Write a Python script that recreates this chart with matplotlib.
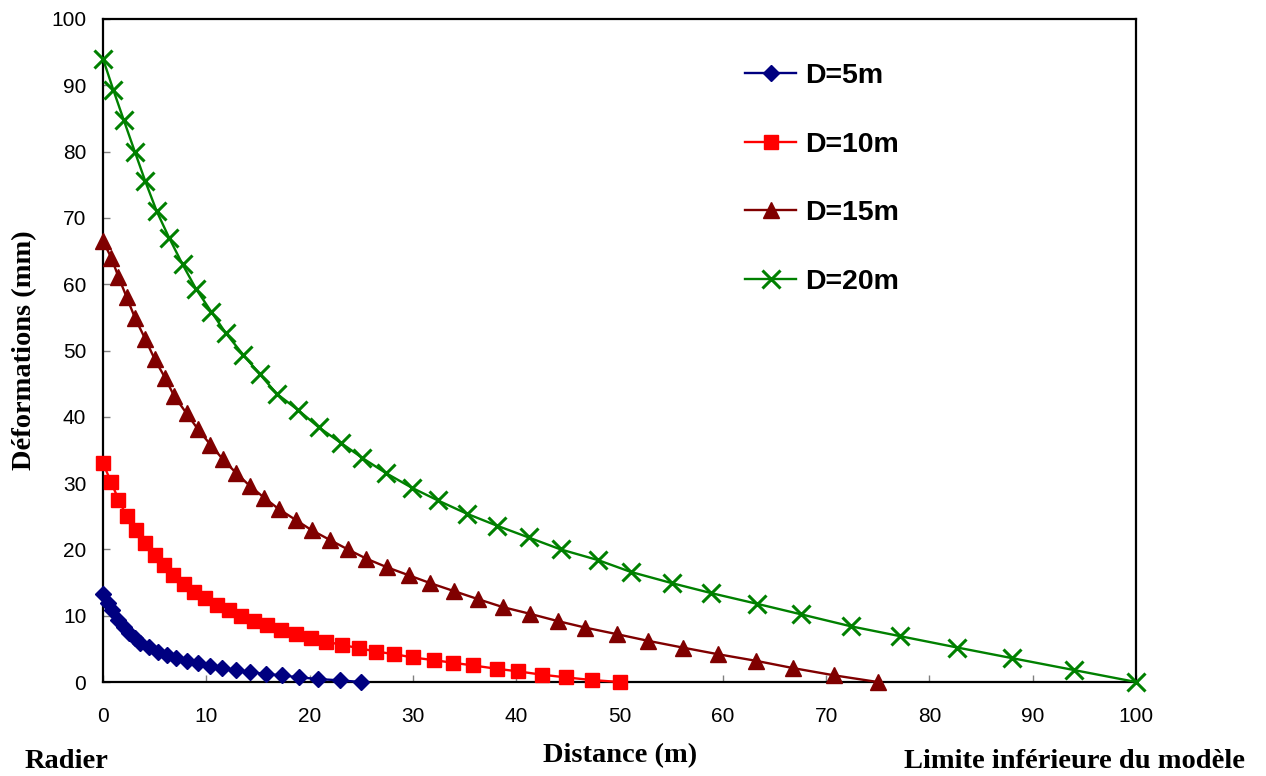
import matplotlib.pyplot as plt

# distances (m) and deformations (mm)
x_d5 = [0, 0.5, 0.9, 1.5, 2.0, 2.5, 3.1, 3.6, 4.5, 5.3, 6.2, 7.1, 8.1, 9.2,
        10.4, 11.5, 12.9, 14.2, 15.8, 17.3, 19.0, 20.8, 22.9, 25.0]
y_d5 = [13.3, 11.9, 10.8, 9.4, 8.3, 7.4, 6.6, 5.9, 5.3, 4.6, 4.1, 3.6, 3.2, 2.8,
        2.4, 2.1, 1.8, 1.5, 1.2, 1.0, 0.7, 0.45, 0.25, 0.0]

x_d10 = [0, 0.8, 1.5, 2.3, 3.2, 4.1, 5.0, 5.9, 6.8, 7.8, 8.8, 9.9, 11.0, 12.2,
         13.4, 14.6, 15.9, 17.2, 18.7, 20.1, 21.6, 23.1, 24.8, 26.4, 28.2,
         30.0, 32.0, 33.9, 35.8, 38.1, 40.2, 42.5, 44.8, 47.3, 50.0]
y_d10 = [33.0, 30.1, 27.5, 25.0, 22.9, 20.9, 19.1, 17.6, 16.1, 14.8, 13.6, 12.6,
         11.6, 10.8, 10.0, 9.2, 8.6, 7.9, 7.3, 6.7, 6.1, 5.6, 5.1, 4.6, 4.2,
         3.7, 3.3, 2.9, 2.5, 2.0, 1.6, 1.1, 0.7, 0.3, 0.0]

x_d15 = [0, 0.8, 1.5, 2.3, 3.1, 4.1, 5.0, 6.0, 6.9, 8.1, 9.2, 10.4, 11.6, 12.9,
         14.2, 15.6, 17.0, 18.7, 20.2, 22.0, 23.7, 25.5, 27.5, 29.6, 31.7,
         34.0, 36.3, 38.7, 41.3, 44.0, 46.7, 49.8, 52.8, 56.1, 59.5, 63.2,
         66.8, 70.8, 75.0]
y_d15 = [66.5, 64.0, 61.1, 58.0, 54.9, 51.7, 48.7, 45.9, 43.1, 40.5, 38.1, 35.8,
         33.6, 31.5, 29.6, 27.8, 26.1, 24.4, 22.9, 21.4, 20.0, 18.6, 17.3, 16.1,
         14.9, 13.7, 12.5, 11.3, 10.3, 9.2, 8.2, 7.2, 6.2, 5.2, 4.2, 3.2, 2.1,
         1.0, 0.0]

x_d20 = [0, 1.0, 2.0, 3.1, 4.1, 5.2, 6.4, 7.7, 9.0, 10.5, 11.9, 13.6, 15.2, 16.8,
         18.9, 20.9, 23.0, 25.1, 27.4, 29.9, 32.4, 35.2, 38.1, 41.2, 44.3, 47.9,
         51.1, 55.1, 58.9, 63.3, 67.6, 72.4, 77.2, 82.7, 88.0, 94.0, 100.0]
y_d20 = [94.0, 89.3, 84.8, 79.9, 75.5, 71.0, 67.0, 63.0, 59.3, 55.8, 52.6, 49.3,
         46.4, 43.5, 41.0, 38.4, 36.1, 33.8, 31.5, 29.3, 27.4, 25.4, 23.6, 21.8,
         20.0, 18.4, 16.6, 14.9, 13.4, 11.8, 10.2, 8.4, 6.9, 5.2, 3.6, 1.8, 0.0]

ticks = list(range(0, 101, 10))

W, H = 1266, 776
fig = plt.figure(figsize=(W / 100, H / 100), dpi=100)
ax = fig.add_axes([103 / W, (H - 682) / H, (1136 - 103) / W, (682 - 19) / H])

ax.plot(x_d5, y_d5, color="#000080", lw=1.7, marker="D", ms=8.5, label="D=5m",
        clip_on=False, zorder=3)
ax.plot(x_d10, y_d10, color="#ff0000", lw=1.7, marker="s", ms=10,
        label="D=10m", clip_on=False, zorder=3)
ax.plot(x_d15, y_d15, color="#800000", lw=1.7, marker="^", ms=11,
        label="D=15m", clip_on=False, zorder=3)
ax.plot(x_d20, y_d20, color="#008000", lw=1.7, marker="x", ms=12.5, mew=2.2,
        label="D=20m", clip_on=False, zorder=3)

ax.set_xlim(0, 100)
ax.set_ylim(0, 100)
ax.set_xticks(ticks)
ax.set_yticks(ticks)
for s in ax.spines.values():
    s.set_linewidth(1.6)
    s.set_color("black")
ax.tick_params(direction="in", length=5, width=1, color="#808080",
               labelsize=15)
ax.tick_params(axis="x", pad=18)
ax.tick_params(axis="y", pad=12)
for lab in ax.get_xticklabels() + ax.get_yticklabels():
    lab.set_family("Liberation Sans")

leg = ax.legend(loc="upper left", bbox_to_anchor=(745 / W, 1 - 63 / H),
                bbox_transform=fig.transFigure, frameon=False, borderpad=0,
                borderaxespad=0, handlelength=1.8, handletextpad=0.3,
                labelspacing=1.5,
                prop={"family": "Liberation Sans", "weight": "bold",
                      "size": 20.5})

serif = dict(family="Liberation Serif", weight="bold", size=20.5)
fig.text(25 / W, 1 - 350 / H, "Déformations (mm)", rotation=90,
         ha="center", va="center", **serif)
fig.text(25 / W, 1 - 761 / H, "Radier", ha="left", va="center", **serif)
fig.text(620 / W, 1 - 756 / H, "Distance (m)", ha="center", va="center", **serif)
fig.text(1245 / W, 1 - 761 / H, "Limite inférieure du modèle", ha="right",
         va="center", **serif)

fig.savefig("out.png", dpi=100)
